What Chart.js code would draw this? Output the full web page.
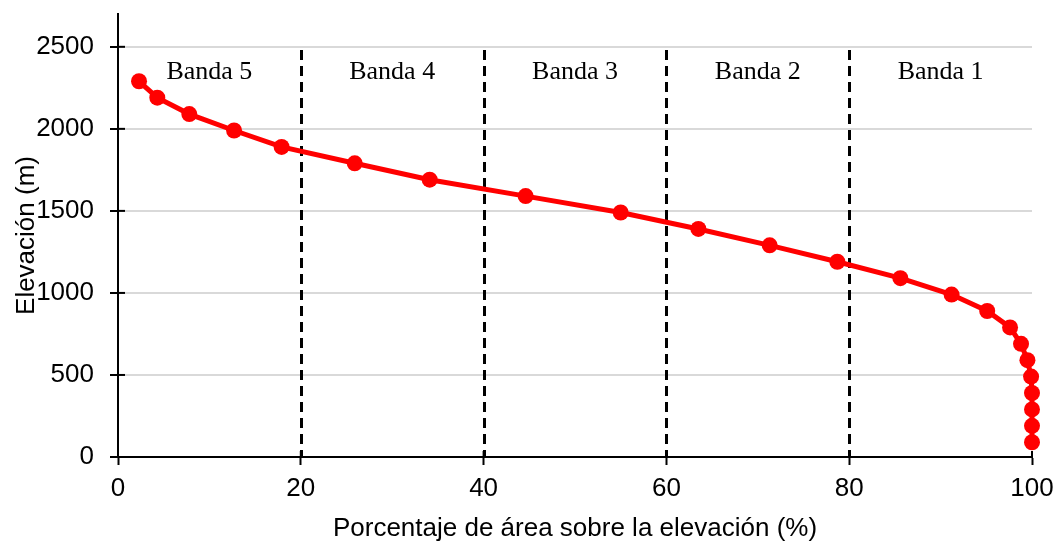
<!DOCTYPE html>
<html><head><meta charset="utf-8">
<script src="https://cdn.jsdelivr.net/npm/chart.js@4"></script>
<style>html,body{margin:0;padding:0;background:#fff}#wrap{width:1060px;height:542px;position:relative}</style>
</head><body><div id="wrap"><canvas id="c"></canvas></div>
<script>
const areaPct = [2.3, 4.3, 7.8, 12.7, 17.9, 25.9, 34.1, 44.6, 55.0, 63.5, 71.3, 78.7, 85.6, 91.2, 95.1, 97.6, 98.8, 99.5, 99.9, 100, 100, 100, 100];
const elevation = [2290, 2190, 2090, 1990, 1890, 1790, 1690, 1590, 1490, 1390, 1290, 1190, 1090, 990, 890, 790, 690, 590, 490, 390, 290, 190, 90];
const bandLabels = ["Banda 5", "Banda 4", "Banda 3", "Banda 2", "Banda 1"];
const bandCenters = [10, 30, 50, 70, 90];
const bandBounds = [20, 40, 60, 80];
const yTicks = [0, 500, 1000, 1500, 2000, 2500];
const xTicks = [0, 20, 40, 60, 80, 100];

const SANS = '"Liberation Sans", Arial, sans-serif';

const bandPlugin = {
  id: 'bands',
  beforeDatasetsDraw(chart) {
    const {ctx, scales:{x, y}} = chart;
    ctx.save();
    ctx.strokeStyle = '#000'; ctx.lineWidth = 3; ctx.setLineDash([10, 6]);
    bandBounds.forEach(v => {
      const px = Math.round(x.getPixelForValue(v)) + 0.5;
      ctx.beginPath(); ctx.moveTo(px, y.getPixelForValue(2480)); ctx.lineTo(px, y.getPixelForValue(0)); ctx.stroke();
    });
    ctx.setLineDash([]);
    ctx.fillStyle = '#000'; ctx.font = '26px "Liberation Serif", "Times New Roman", serif';
    ctx.textAlign = 'center'; ctx.textBaseline = 'middle';
    bandLabels.forEach((t, i) => ctx.fillText(t, x.getPixelForValue(bandCenters[i]), y.getPixelForValue(2345)));
    ctx.lineWidth = 2;
    yTicks.forEach(v => { const py = y.getPixelForValue(v); ctx.beginPath(); ctx.moveTo(x.left, py); ctx.lineTo(x.left + 7, py); ctx.stroke(); });
    xTicks.forEach(v => { const px = x.getPixelForValue(v); ctx.beginPath(); ctx.moveTo(px, y.bottom); ctx.lineTo(px, y.bottom - 6); ctx.stroke(); });
    ctx.restore();
  }
};

new Chart(document.getElementById('c'), {
  type: 'line',
  data: { datasets: [{ data: areaPct.map((v, i) => ({x: v, y: elevation[i]})),
    borderColor: '#ff0000', backgroundColor: '#ff0000', borderWidth: 5, clip: false,
    pointRadius: 8, pointHoverRadius: 8, pointBorderWidth: 0, tension: 0 }] },
  options: {
    responsive: true, maintainAspectRatio: false, animation: false,
    layout: { padding: { top: 14, right: 28, left: 0, bottom: 0 } },
    plugins: { legend: { display: false }, tooltip: { enabled: false } },
    scales: {
      x: { type: 'linear', min: 0, max: 100,
        afterBuildTicks: s => { s.ticks = xTicks.map(v => ({value: v})); },
        afterFit: s => { s.height = 85; s.paddingLeft = 0; s.paddingRight = 0; },
        border: { color: '#000', width: 2 },
        grid: { drawOnChartArea: false, drawTicks: true, tickLength: 8, tickColor: '#000', tickWidth: 2 },
        ticks: { color: '#000', font: { family: SANS, size: 26 }, padding: 8, maxRotation: 0, callback: v => String(v) },
        title: { display: true, text: 'Porcentaje de área sobre la elevación (%)', color: '#000',
          font: { family: SANS, size: 26 }, padding: { top: 0, bottom: -2 } } },
      y: { type: 'linear', min: 0, max: 2700,
        afterBuildTicks: s => { s.ticks = yTicks.map(v => ({value: v})); },
        afterFit: s => { s.width = 118; s.paddingTop = 0; s.paddingBottom = 0; },
        border: { color: '#000', width: 2 },
        grid: { color: '#d9d9d9', lineWidth: 2, drawTicks: true, tickLength: 8, tickColor: '#000', tickWidth: 2 },
        ticks: { color: '#000', font: { family: SANS, size: 26 }, padding: 16, callback: v => String(v) },
        title: { display: true, text: 'Elevación (m)', color: '#000',
          font: { family: SANS, size: 26 }, padding: { top: 11, bottom: 0 } } }
    }
  },
  plugins: [bandPlugin]
});
</script></body></html>
